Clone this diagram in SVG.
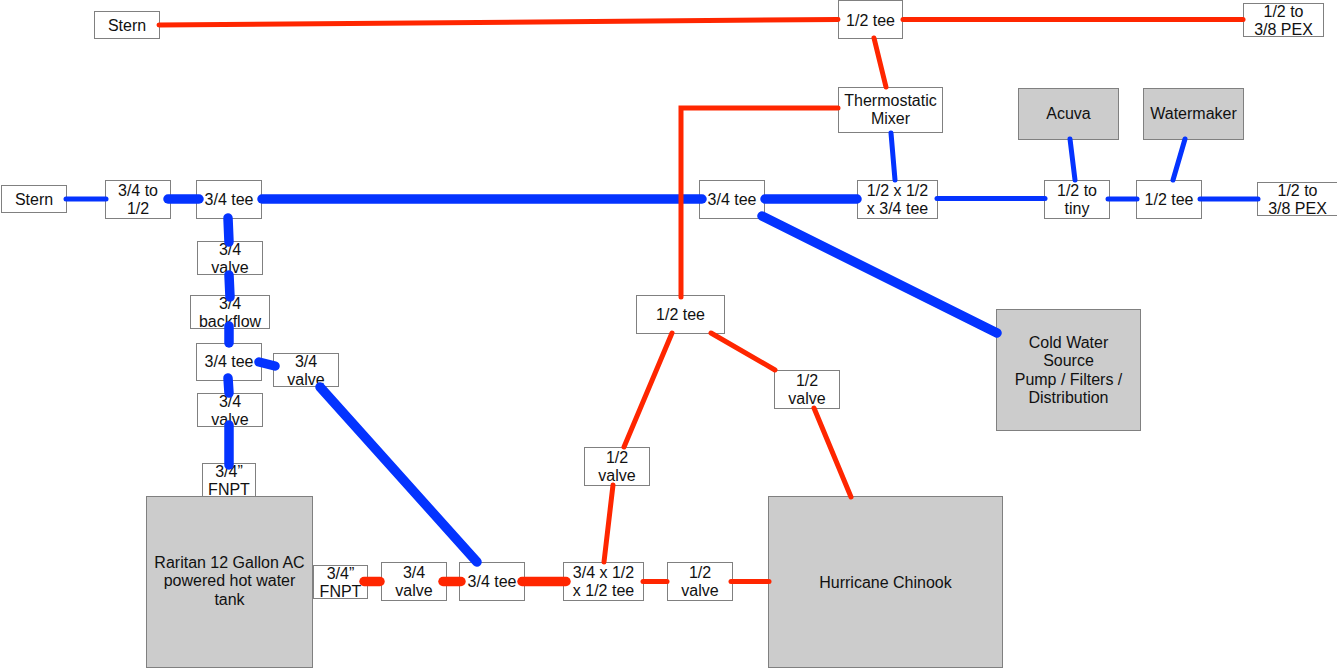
<svg xmlns="http://www.w3.org/2000/svg" width="1337" height="668" viewBox="0 0 1337 668">
<style>
.n rect{fill:#ffffff;stroke:#808080;stroke-width:1}
.g rect{fill:#cccccc;stroke:#808080;stroke-width:1}
text{font-family:"Liberation Sans",Arial,Helvetica,sans-serif;font-size:16px;fill:#111111;text-anchor:middle;dominant-baseline:central}
.b{stroke:#0433ff;fill:none;stroke-linecap:round;stroke-linejoin:miter}
.r{stroke:#ff2600;fill:none;stroke-linecap:round;stroke-linejoin:miter}
.t{stroke-width:5}
.k{stroke-width:9.5}
</style>
<rect width="1337" height="668" fill="#ffffff"/>
<g id="nodes">
<g id="stern-top" class="n"><rect x="94.5" y="11.5" width="65" height="27"/><text x="127" y="25">Stern</text></g>
<g id="tee-half-top" class="n"><rect x="838.5" y="0.5" width="64" height="38"/><text x="870.5" y="20">1/2 tee</text></g>
<g id="pex-top" class="n"><rect x="1243.5" y="3.5" width="80" height="33"/><text x="1283.5" y="11">1/2 to</text><text x="1283.5" y="29.5">3/8 PEX</text></g>
<g id="mixer" class="n"><rect x="838.5" y="87.5" width="104" height="45"/><text x="890.5" y="100">Thermostatic</text><text x="890.5" y="118.5">Mixer</text></g>
<g id="acuva" class="g"><rect x="1018.5" y="88.5" width="100" height="51"/><text x="1068.5" y="113.5">Acuva</text></g>
<g id="watermaker" class="g"><rect x="1143.5" y="88.5" width="100" height="51"/><text x="1193.5" y="113.5">Watermaker</text></g>
<g id="stern-left" class="n"><rect x="1.5" y="185.5" width="65" height="27"/><text x="34" y="199">Stern</text></g>
<g id="reducer" class="n"><rect x="105.5" y="180.5" width="65" height="38"/><text x="138" y="190">3/4 to</text><text x="138" y="208.5">1/2</text></g>
<g id="tee-34-a" class="n"><rect x="196.5" y="180.5" width="65" height="38"/><text x="229" y="199.5">3/4 tee</text></g>
<g id="tee-34-b" class="n"><rect x="699.5" y="180.5" width="65" height="38"/><text x="732" y="199.5">3/4 tee</text></g>
<g id="tee-mix" class="n"><rect x="857.5" y="180.5" width="80" height="38"/><text x="897.5" y="190">1/2 x 1/2</text><text x="897.5" y="208.5">x 3/4 tee</text></g>
<g id="tiny" class="n"><rect x="1044.5" y="180.5" width="65" height="38"/><text x="1077" y="190">1/2 to</text><text x="1077" y="208.5">tiny</text></g>
<g id="tee-half-right" class="n"><rect x="1136.5" y="180.5" width="65" height="38"/><text x="1169" y="199.5">1/2 tee</text></g>
<g id="pex-right" class="n"><rect x="1257.5" y="182.5" width="80" height="33"/><text x="1297.5" y="190">1/2 to</text><text x="1297.5" y="208.5">3/8 PEX</text></g>
<g id="valve-a" class="n"><rect x="197.5" y="241.5" width="65" height="33"/><text x="230" y="249.5">3/4</text><text x="230" y="267.5">valve</text></g>
<g id="backflow" class="n"><rect x="190.5" y="295.5" width="79" height="33"/><text x="230" y="303">3/4</text><text x="230" y="321.5">backflow</text></g>
<g id="tee-34-c" class="n"><rect x="196.5" y="343.5" width="65" height="37"/><text x="229" y="361">3/4 tee</text></g>
<g id="valve-side" class="n"><rect x="273.5" y="353.5" width="65" height="33"/><text x="306" y="361">3/4</text><text x="306" y="379.5">valve</text></g>
<g id="valve-b" class="n"><rect x="197.5" y="393.5" width="65" height="33"/><text x="230" y="401">3/4</text><text x="230" y="419.5">valve</text></g>
<g id="fnpt-top" class="n"><rect x="202.5" y="463.5" width="53" height="33"/><text x="229" y="471">3/4”</text><text x="229" y="489.5">FNPT</text></g>
<g id="tank" class="g"><rect x="146.5" y="496.5" width="166" height="171"/><text x="229.5" y="562">Raritan 12 Gallon AC</text><text x="229.5" y="580.5">powered hot water</text><text x="229.5" y="599">tank</text></g>
<g id="fnpt-right" class="n"><rect x="313.5" y="565.5" width="54" height="33"/><text x="340.5" y="573">3/4”</text><text x="340.5" y="591.5">FNPT</text></g>
<g id="valve-c" class="n"><rect x="381.5" y="562.5" width="65" height="38"/><text x="414" y="572">3/4</text><text x="414" y="590.5">valve</text></g>
<g id="tee-34-d" class="n"><rect x="459.5" y="562.5" width="65" height="38"/><text x="492" y="581.5">3/4 tee</text></g>
<g id="tee-hot" class="n"><rect x="563.5" y="562.5" width="80" height="38"/><text x="603.5" y="572">3/4 x 1/2</text><text x="603.5" y="590.5">x 1/2 tee</text></g>
<g id="valve-d" class="n"><rect x="667.5" y="562.5" width="65" height="38"/><text x="700" y="572">1/2</text><text x="700" y="590.5">valve</text></g>
<g id="tee-half-mid" class="n"><rect x="636.5" y="295.5" width="88" height="38"/><text x="680.5" y="314.5">1/2 tee</text></g>
<g id="valve-e" class="n"><rect x="584.5" y="447.5" width="65" height="38"/><text x="617" y="457">1/2</text><text x="617" y="475.5">valve</text></g>
<g id="valve-f" class="n"><rect x="774.5" y="370.5" width="65" height="38"/><text x="807" y="380">1/2</text><text x="807" y="398.5">valve</text></g>
<g id="chinook" class="g"><rect x="768.5" y="496.5" width="234" height="171"/><text x="885.5" y="582">Hurricane Chinook</text></g>
<g id="cold-source" class="g"><rect x="996.5" y="309.5" width="144" height="121"/><text x="1068.5" y="342">Cold Water</text><text x="1068.5" y="360.5">Source</text><text x="1068.5" y="379">Pump / Filters /</text><text x="1068.5" y="397.5">Distribution</text></g>
</g>
<g id="connectors">
<line class="b t" x1="66" y1="199" x2="106" y2="199"/>
<line class="b t" x1="937" y1="198.5" x2="1045" y2="198.5"/>
<line class="b t" x1="891" y1="133" x2="895" y2="180"/>
<line class="b t" x1="1070" y1="139" x2="1075" y2="180"/>
<line class="b t" x1="1185" y1="139" x2="1173" y2="180"/>
<line class="b t" x1="1108" y1="199" x2="1137" y2="199"/>
<line class="b t" x1="1200" y1="199" x2="1258" y2="199"/>
<line class="b k" x1="168" y1="199" x2="199" y2="199"/>
<line class="b k" x1="262" y1="199" x2="702" y2="199"/>
<line class="b k" x1="765" y1="199" x2="857" y2="199"/>
<line class="b k" x1="762" y1="216" x2="997" y2="333"/>
<line class="b k" x1="228" y1="218" x2="229" y2="242"/>
<line class="b k" x1="229" y1="275" x2="230" y2="297"/>
<line class="b k" x1="229" y1="326" x2="229" y2="343"/>
<line class="b k" x1="259" y1="362" x2="275" y2="366"/>
<line class="b k" x1="228" y1="378" x2="229" y2="393"/>
<line class="b k" x1="229" y1="425" x2="229" y2="465"/>
<line class="b k" x1="320" y1="387" x2="477" y2="562"/>
<line class="r t" x1="159" y1="25" x2="838" y2="19.5"/>
<line class="r t" x1="903" y1="19.5" x2="1243" y2="19.5"/>
<line class="r t" x1="874" y1="38" x2="886" y2="87"/>
<polyline class="r t" points="838,108 681,108 681,297"/>
<line class="r t" x1="672" y1="333" x2="624" y2="447"/>
<line class="r t" x1="711" y1="333" x2="775" y2="370"/>
<line class="r t" x1="814" y1="408" x2="851" y2="497"/>
<line class="r t" x1="613" y1="485" x2="604" y2="562"/>
<line class="r t" x1="643" y1="581.5" x2="667" y2="581.5"/>
<line class="r t" x1="731" y1="581.5" x2="769" y2="581.5"/>
<line class="r k" x1="364" y1="581.5" x2="380" y2="581.5"/>
<line class="r k" x1="443" y1="581.5" x2="461" y2="581.5"/>
<line class="r k" x1="522" y1="581.5" x2="566" y2="581.5"/>
</g>
</svg>
